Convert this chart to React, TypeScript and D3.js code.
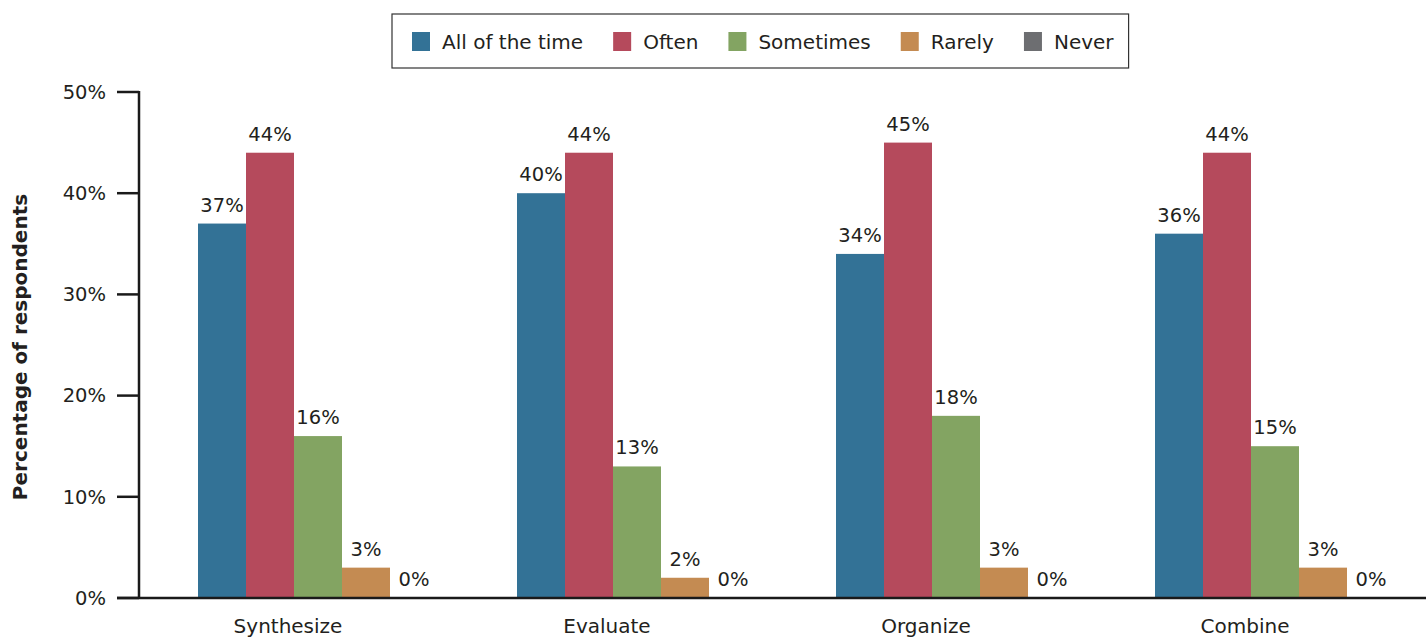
import React, { useEffect, useRef } from 'react';
import * as d3 from 'd3';

const categories = ['Synthesize', 'Evaluate', 'Organize', 'Combine'];
const seriesNames = ['All of the time', 'Often', 'Sometimes', 'Rarely', 'Never'];
const seriesColors = ['#337296', '#b54a5c', '#83a462', '#c48b52', '#6d6e71'];

// values per category, in series order
const allOfTheTime = [37, 40, 34, 36];
const often = [44, 44, 45, 44];
const sometimes = [16, 13, 18, 15];
const rarely = [3, 2, 3, 3];
const never = [0, 0, 0, 0];

const yTicks = [0, 10, 20, 30, 40, 50];

const FONT = "'DejaVu Sans', sans-serif";
const INK = '#231f20';

const App: React.FC = () => {
  const svgRef = useRef<SVGSVGElement>(null);

  const width = 1426;
  const height = 637;

  useEffect(() => {
    document.body.style.margin = '0';
    if (!svgRef.current) return;

    const svg = d3.select(svgRef.current);
    svg.selectAll('*').remove();

    const seriesValues = [allOfTheTime, often, sometimes, rarely, never];
    const axisX = 139;
    const step = 319;

    const y = d3.scaleLinear().domain([0, 50]).range([598, 92]);
    const x0 = d3.scaleBand<string>()
      .domain(categories)
      .range([axisX, axisX + step * categories.length]);
    const x1 = d3.scaleBand<string>()
      .domain(seriesNames)
      .range([59, 59 + 48 * seriesNames.length]);

    // bars
    categories.forEach((cat, ci) => {
      const g = svg.append('g').attr('transform', `translate(${x0(cat)},0)`);
      seriesNames.forEach((s, si) => {
        const v = seriesValues[si][ci];
        g.append('rect')
          .attr('x', x1(s)!)
          .attr('y', y(v))
          .attr('width', x1.bandwidth())
          .attr('height', y(0) - y(v))
          .attr('fill', seriesColors[si]);
        g.append('text')
          .attr('x', x1(s)! + x1.bandwidth() / 2)
          .attr('y', y(v) - 12)
          .attr('text-anchor', 'middle')
          .style('font-family', FONT)
          .style('font-size', '19.5px')
          .style('fill', INK)
          .text(`${v}%`);
      });
      // category label
      g.append('text')
        .attr('x', 149)
        .attr('y', 633)
        .attr('text-anchor', 'middle')
        .style('font-family', FONT)
        .style('font-size', '20px')
        .style('fill', INK)
        .text(cat);
    });

    // y axis
    const axisG = svg.append('g');
    axisG.append('line')
      .attr('x1', axisX).attr('x2', axisX)
      .attr('y1', y(50) - 1).attr('y2', y(0))
      .style('stroke', '#1a1a1a').style('stroke-width', 2.5);
    yTicks.forEach(t => {
      axisG.append('line')
        .attr('x1', 117).attr('x2', axisX)
        .attr('y1', y(t)).attr('y2', y(t))
        .style('stroke', '#1a1a1a').style('stroke-width', 2.5);
      axisG.append('text')
        .attr('x', 106)
        .attr('y', y(t))
        .attr('dy', '0.35em')
        .attr('text-anchor', 'end')
        .style('font-family', FONT)
        .style('font-size', '19.5px')
        .style('fill', INK)
        .text(`${t}%`);
    });
    // x axis baseline
    axisG.append('line')
      .attr('x1', 117).attr('x2', width)
      .attr('y1', y(0)).attr('y2', y(0))
      .style('stroke', '#1a1a1a').style('stroke-width', 2.5);

    // y title
    svg.append('text')
      .attr('transform', `translate(27, ${(y(10) + y(40)) / 2 + 2}) rotate(-90)`)
      .attr('text-anchor', 'middle')
      .style('font-family', FONT)
      .style('font-size', '20px')
      .style('font-weight', 'bold')
      .style('fill', INK)
      .text('Percentage of respondents');

    // legend
    const legend = svg.append('g');
    const box = legend.append('rect')
      .attr('y', 14)
      .attr('height', 54)
      .style('fill', 'white')
      .style('stroke', '#333')
      .style('stroke-width', 1.2);
    let cx = 412;
    const gap = 30;
    seriesNames.forEach((s, i) => {
      legend.append('rect')
        .attr('x', cx).attr('y', 32)
        .attr('width', 18).attr('height', 19)
        .attr('fill', seriesColors[i]);
      const txt = legend.append('text')
        .attr('x', cx + 30)
        .attr('y', 41.5)
        .attr('dy', '0.35em')
        .style('font-family', FONT)
        .style('font-size', '20px')
        .style('fill', INK)
        .text(s);
      const w = (txt.node() as SVGTextElement).getComputedTextLength();
      cx += 30 + w + gap;
    });
    box.attr('x', 392).attr('width', cx - gap + 15 - 392);
  }, []);

  return <svg ref={svgRef} width={width} height={height} style={{ display: 'block' }} />;
};

export default App;
